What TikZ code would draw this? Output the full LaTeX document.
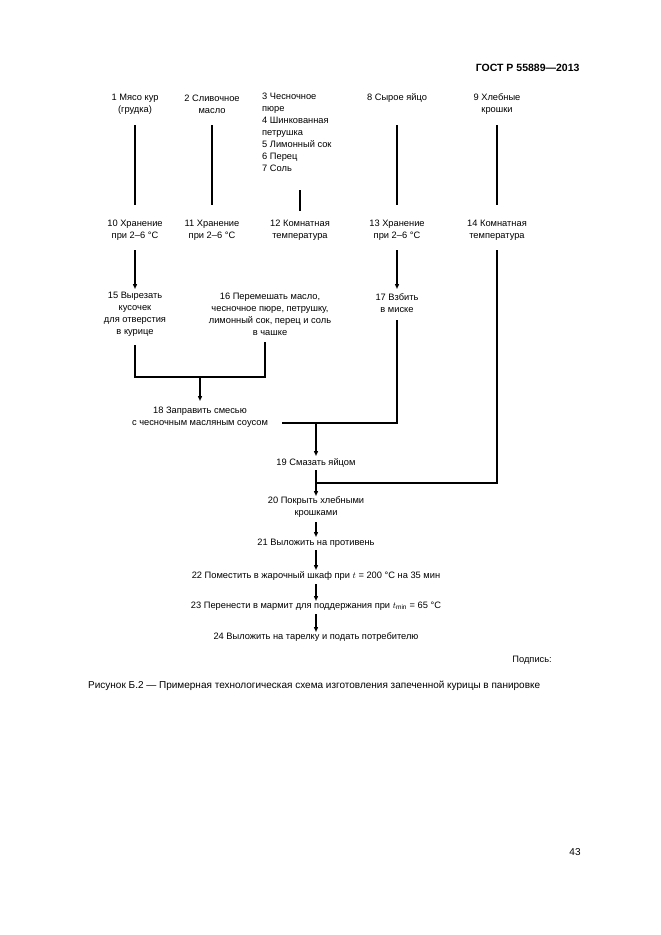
\documentclass[tikz,border=0pt]{standalone}
\usepackage{fontspec}
\setmainfont{Liberation Sans}
\usetikzlibrary{arrows.meta}
\begin{document}
\begin{tikzpicture}[x=1pt,y=-1pt,
 t/.style={font=\fontsize{9.3}{12}\selectfont, align=center, inner sep=0pt},
 ln/.style={line width=1.6pt},
 ar/.style={ln,-{Triangle[width=4pt,length=5pt]}}]
\useasboundingbox (0,0) rectangle (661,935);
\node[font=\bfseries\fontsize{10.5}{12}\selectfont, anchor=east] (hdr) at (583,68) {ГОСТ Р 55889—2013};
% top row
\node[t] (n1) at (135,104) {1 Мясо кур\\(грудка)};
\node[t] (n2) at (212,104) {2 Сливочное\\масло};
\node[t, align=left, anchor=north west] (n3) at (262,93) {3 Чесночное\\пюре\\4 Шинкованная\\петрушка\\5 Лимонный сок\\6 Перец\\7 Соль};
\node[t] (n8) at (397,98) {8 Сырое яйцо};
\node[t] (n9) at (497,104) {9 Хлебные\\крошки};
% row 2
\node[t] (n10) at (135,230) {10 Хранение\\при 2–6 °С};
\node[t] (n11) at (212,230) {11 Хранение\\при 2–6 °С};
\node[t] (n12) at (300,230) {12 Комнатная\\температура};
\node[t] (n13) at (397,230) {13 Хранение\\при 2–6 °С};
\node[t] (n14) at (497,230) {14 Комнатная\\температура};
% row 3
\node[t] (n15) at (135,314) {15 Вырезать\\кусочек\\для отверстия\\в курице};
\node[t] (n16) at (270,314) {16 Перемешать масло,\\чесночное пюре, петрушку,\\лимонный сок, перец и соль\\в чашке};
\node[t] (n17) at (397,303) {17 Взбить\\в миске};
\node[t] (n18) at (200,417) {18 Заправить смесью\\с чесночным масляным соусом};
\node[t] (n19) at (316,463) {19 Смазать яйцом};
\node[t] (n20) at (316,507) {20 Покрыть хлебными\\крошками};
\node[t] (n21) at (316,543) {21 Выложить на противень};
\node[t] (n22) at (316,576) {22 Поместить в жарочный шкаф при $t$ = 200 °С на 35 мин};
\node[t] (n23) at (316,606) {23 Перенести в мармит для поддержания при $t_{\min}$ = 65 °С};
\node[t] (n24) at (316,637) {24 Выложить на тарелку и подать потребителю};
\node[t, anchor=east] (sig) at (552,660) {Подпись:};
\node[font=\fontsize{10}{12}\selectfont, anchor=west, inner sep=0pt] (cap) at (88,686) {Рисунок Б.2 — Примерная технологическая схема изготовления запеченной курицы в панировке};
\node[font=\fontsize{10}{12}\selectfont, inner sep=0pt] (pg) at (575,852) {43};
% connectors
\coordinate (c3a) at (300,190); \coordinate (c3b) at (300,211);
\draw[ln] (c3a) -- (c3b);
\draw[ln] (135,125) -- (135,205);
\draw[ln] (212,125) -- (212,205);
\draw[ln] (397,125) -- (397,205);
\draw[ln] (497,125) -- (497,205);
\draw[ar] (135,250) -- (135,289);
\draw[ar] (397,250) -- (397,289);
\coordinate (j15) at (135,345); \coordinate (j16) at (265,342);
\draw[ln] (j15) -- (135,377) -- (265,377) -- (j16);
\draw[ar] (200,377) -- (200,401);
\coordinate (j17) at (397,320);
\draw[ln] (j17) -- (397,423) -- (282,423);
\draw[ar] (316,423) -- (316,456);
\coordinate (j14) at (497,250);
\draw[ln] (j14) -- (497,483) -- (316,483);
\draw[ar] (316,470) -- (316,496);
\draw[ar] (316,522) -- (316,537);
\draw[ar] (316,550) -- (316,570);
\draw[ar] (316,584) -- (316,601);
\draw[ar] (316,614) -- (316,632);
\end{tikzpicture}
\end{document}
